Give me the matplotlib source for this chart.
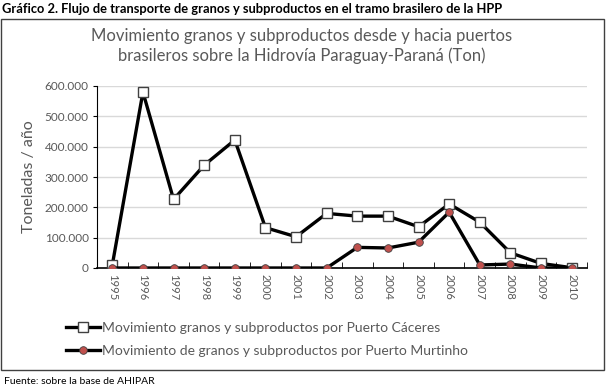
import matplotlib
matplotlib.use("Agg")
import matplotlib.pyplot as plt
from matplotlib.patches import Rectangle
from matplotlib.ticker import FuncFormatter, FixedLocator

plt.rcParams["font.family"] = ["Lato", "DejaVu Sans"]

years = [str(y) for y in range(1995, 2011)]
caceres = [10000, 580000, 226000, 339000, 422000, 133000, 103000, 180000,
           171000, 171000, 136000, 211000, 151000, 50000, 15000, 1000]
murtinho = [0, 0, 0, 0, 0, 0, 0, 0,
            68000, 66000, 85000, 184000, 10000, 13000, 0, 0]

GRAY = "#595959"

fig = plt.figure(figsize=(6.07, 3.91), dpi=100)
ax = fig.add_axes([97 / 607, 1 - 268 / 391, 490 / 607, 182 / 391])

x = list(range(len(years)))
ax.plot(x, caceres, color="black", lw=2.4, marker="s", markersize=7,
        markerfacecolor="white", markeredgecolor="#404040", markeredgewidth=1.0,
        label="Movimiento granos y subproductos por Puerto Cáceres", zorder=3)
ax.plot(x, murtinho, color="black", lw=2.4, marker="o", markersize=5.5,
        markerfacecolor="#C0504D", markeredgecolor="#404040", markeredgewidth=0.6,
        label="Movimiento de granos y subproductos por Puerto Murtinho", zorder=4)

ax.set_xlim(-0.5, len(years) - 0.5)
ax.set_ylim(0, 600000)
ax.set_yticks(range(0, 600001, 100000))
ax.yaxis.set_major_formatter(FuncFormatter(lambda v, p: f"{int(v):,}".replace(",", ".")))
ax.set_xticks(x)
ax.set_xticklabels(years, rotation=-90, fontsize=8, color=GRAY)
ax.xaxis.set_minor_locator(FixedLocator([i + 0.5 for i in range(-1, len(years))]))
ax.tick_params(axis="x", which="major", length=0, pad=4)
ax.tick_params(axis="x", which="minor", direction="in", length=4, color="black")
ax.tick_params(axis="y", length=3, labelsize=8.5, labelcolor=GRAY, pad=3)

ax.grid(axis="y", color="#D9D9D9", lw=1)
ax.set_axisbelow(True)
for s in ["top", "right"]:
    ax.spines[s].set_visible(False)
ax.spines["left"].set_color("black")
ax.spines["bottom"].set_color("black")
ax.spines["bottom"].set_linewidth(1.2)

ax.set_ylabel("Toneladas / año", fontsize=11.5, color=GRAY, labelpad=6)

fig.text(0.5 - 2 / 607, 1 - 46 / 391,
         "Movimiento granos y subproductos desde y hacia puertos\n"
         "brasileros sobre la Hidrovía Paraguay-Paraná (Ton)",
         ha="center", va="center", fontsize=12, color=GRAY, linespacing=1.25)

fig.legend(loc="upper left", bbox_to_anchor=(53 / 607, 1 - 309 / 391),
           frameon=False, fontsize=10, labelcolor=GRAY, handlelength=2.5,
           handletextpad=0.1, labelspacing=0.85)

fig.patches.append(Rectangle((1.5 / 607, 1 - 369.5 / 391), 602 / 607, 351 / 391,
                             transform=fig.transFigure, fill=False,
                             edgecolor="#404040", lw=1))

fig.text(2 / 607, 1 - 9 / 391,
         "Gráfico 2. Flujo de transporte de granos y subproductos en el tramo brasilero de la HPP",
         ha="left", va="center", fontsize=9.3, fontweight="bold", color="black")
fig.text(4 / 607, 1 - 381 / 391, "Fuente: sobre la base de AHIPAR",
         ha="left", va="center", fontsize=7.5, color="black")

fig.savefig("out.png", dpi=100)
